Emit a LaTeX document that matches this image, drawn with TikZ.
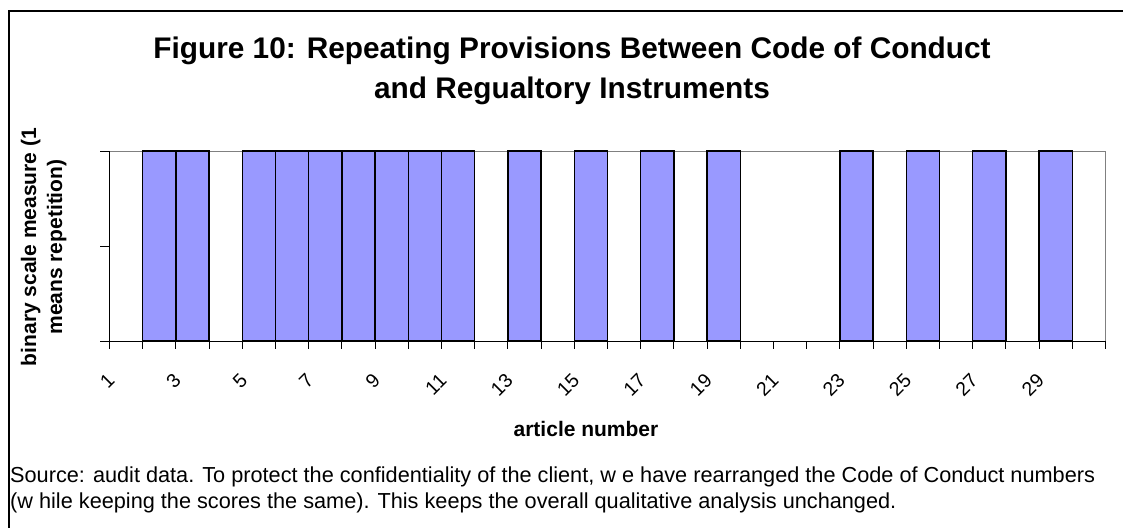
\documentclass[tikz,border=0pt]{standalone}
\usepackage{fontspec}
\setmainfont{Liberation Sans}
\usetikzlibrary{calc}
\definecolor{barfill}{RGB}{153,153,255}
\definecolor{plotgray}{RGB}{128,128,128}

\begin{document}
\begin{tikzpicture}[x=1pt,y=-1pt,line cap=butt,
  ticklabel/.style={anchor=east,rotate=45,inner sep=0pt,font=\fontsize{19.5}{19.5}\selectfont},
  axistitle/.style={anchor=base,inner sep=0pt,font=\bfseries\fontsize{21}{21}\selectfont},
  footnote/.style={anchor=base west,inner sep=0pt,font=\fontsize{21.7}{21.7}\selectfont}]
\path[use as bounding box] (0,0) rectangle (1123,527);
\clip (0,0) rectangle (1123,527);

\draw[line width=1.2pt] (9,11) rectangle (1140,540);

\coordinate (O) at (109.5,341);
\coordinate (T) at (109.5,151);
\coordinate (R) at (1105.5,341);
\coordinate (TR) at (1105.5,151);
\def\catw{33.2}
\def\ploth{190}

\draw[plotgray,line width=1pt] (T) -- (TR) -- (R);

\foreach \k in {2,3,5,6,7,8,9,10,11,13,15,17,19,23,25,27,29}{
  \draw[fill=barfill,line width=1.3pt] ($(O)+({(\k-1)*\catw},0)$) rectangle ++(\catw,-\ploth);
}

\draw[line width=1pt] (T) -- (O) -- (R);
\foreach \v in {0,95,190}{\draw[line width=1pt] ($(O)+(0,-\v)$) -- ++(-9.5,0);}
\foreach \k in {0,...,30}{\draw[line width=1pt] ($(O)+(\k*\catw,0)$) -- ++(0,8);}

\foreach \k in {1,3,...,29}{
  \node[ticklabel] (tick\k) at ($(O)+({(\k-0.5)*\catw-15},36)$) {\k};
}

\node[anchor=base,font=\bfseries\fontsize{29.8}{29.8}\selectfont] (title1) at (572,59)
  {Figure 10: Repeating Provisions Between Code of Conduct};
\node[anchor=base,font=\bfseries\fontsize{29.8}{29.8}\selectfont] (title2) at (572,98)
  {and Regualtory Instruments};

\node[axistitle,rotate=90] (ytitle1) at (36,247) {binary scale measure (1};
\node[axistitle,rotate=90] (ytitle2) at (62,247) {means repetition)};
\node[axistitle] (xtitle) at (586,436) {article number};

\node[footnote] (source1) at (10,482)
  {Source: audit data. To protect the confidentiality of the client, w e have rearranged the Code of Conduct numbers};
\node[footnote] (source2) at (10,508)
  {(w hile keeping the scores the same). This keeps the overall qualitative analysis unchanged.};
\end{tikzpicture}
\end{document}
